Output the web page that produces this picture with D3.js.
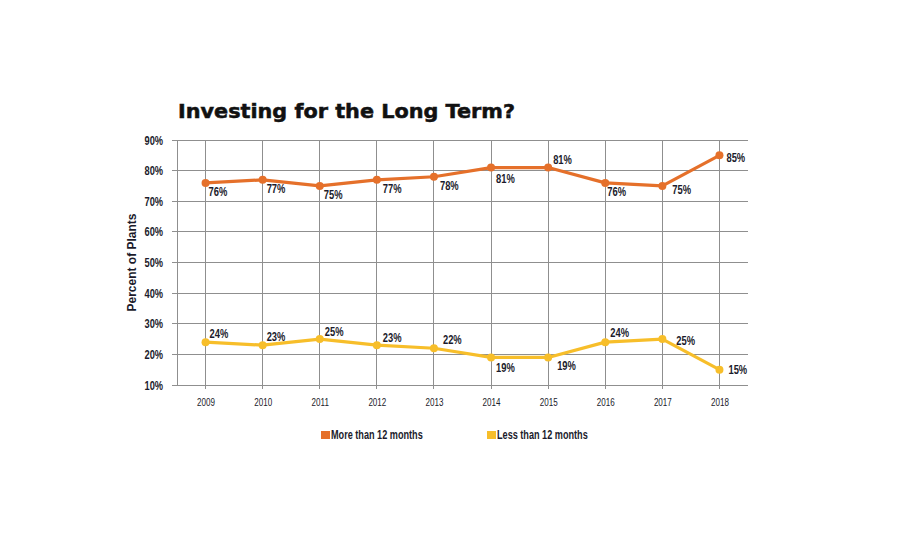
<!DOCTYPE html>
<html>
<head>
<meta charset="utf-8">
<script src="https://cdn.jsdelivr.net/npm/d3@7"></script>
<style>
  body { margin: 0; background: #fff; }
  text { fill: #1b1b2b; }
</style>
</head>
<body>
<svg></svg>
<script>
const width = 900;
const height = 550;

const years = ['2009', '2010', '2011', '2012', '2013', '2014', '2015', '2016', '2017', '2018'];
const moreThan12 = [76, 77, 75, 77, 78, 81, 81, 76, 75, 85];
const lessThan12 = [24, 23, 25, 23, 22, 19, 19, 24, 25, 15];
const yTicks = [10, 20, 30, 40, 50, 60, 70, 80, 90];
const seriesNames = ['More than 12 months', 'Less than 12 months'];
const colors = ['#e5702a', '#f7be2a'];

// label placement relative to each point [dx, dy]
const moreOffsets = [[3, 9], [4, 9], [4, 9], [6, 9], [6, 9], [5, 11], [5, -8], [2, 9], [10, 4], [7, 2]];
const lessOffsets = [[4, -9], [4, -9], [5, -8], [6, -8], [9, -9], [5, 10], [9, 8], [5, -10], [14, 1], [9, 0]];

const margin = { left: 177, right: 152, top: 140, bottom: 165 };
const x0 = margin.left, x1 = width - margin.right;
const y0 = height - margin.bottom, y1 = margin.top;

const svg = d3.select('svg').attr('width', width).attr('height', height);

const x = d3.scalePoint().domain(years).range([x0, x1]).padding(0.5);
const y = d3.scaleLinear().domain([10, 90]).range([y0, y1]);

const font = '"Liberation Sans", Arial, sans-serif';

// squeeze text horizontally to mimic a condensed face
function condense(sel, k) {
    sel.each(function () {
        const len = this.getComputedTextLength();
        d3.select(this).attr('textLength', len * k).attr('lengthAdjust', 'spacingAndGlyphs');
    });
}

const grid = svg.append('g').attr('stroke', '#8f8f8f').attr('stroke-width', 1).attr('shape-rendering', 'crispEdges');

grid.selectAll('.hgrid')
    .data(yTicks)
    .enter().append('line')
    .attr('x1', x0 - 5).attr('x2', x1)
    .attr('y1', d => y(d)).attr('y2', d => y(d));

grid.selectAll('.vgrid')
    .data(years)
    .enter().append('line')
    .attr('x1', d => x(d)).attr('x2', d => x(d))
    .attr('y1', y1).attr('y2', y0 + 4);

grid.append('line')
    .attr('x1', x0).attr('x2', x0)
    .attr('y1', y1).attr('y2', y0);

// y tick labels
const yAxis = d3.axisLeft(y).tickValues(yTicks).tickFormat(d => d + '%').tickSize(0).tickPadding(14);
svg.append('g')
    .attr('transform', `translate(${x0},0)`)
    .call(yAxis)
    .call(g => g.select('.domain').remove())
    .call(g => g.selectAll('text')
        .attr('font-family', font).attr('font-weight', 'bold')
        .attr('font-size', 12.5).attr('fill', '#1b1b2b')
        .call(condense, 0.74));

// x tick labels
const xAxis = d3.axisBottom(x).tickSize(0).tickPadding(13);
svg.append('g')
    .attr('transform', `translate(0,${y0})`)
    .call(xAxis)
    .call(g => g.select('.domain').remove())
    .call(g => g.selectAll('text')
        .attr('font-family', font).attr('font-size', 11.5).attr('fill', '#1b1b2b')
        .call(condense, 0.7));

const line = d3.line()
    .x((d, i) => x(years[i]))
    .y(d => y(d));

function drawSeries(values, color, offsets) {
    const g = svg.append('g');
    g.append('path')
        .datum(values)
        .attr('d', line)
        .attr('fill', 'none')
        .attr('stroke', color)
        .attr('stroke-width', 3.2)
        .attr('stroke-linejoin', 'round');
    g.selectAll('circle')
        .data(values)
        .enter().append('circle')
        .attr('cx', (d, i) => x(years[i]))
        .attr('cy', d => y(d))
        .attr('r', 4)
        .attr('fill', color);
    g.selectAll('text')
        .data(values)
        .enter().append('text')
        .attr('x', (d, i) => x(years[i]) + offsets[i][0])
        .attr('y', (d, i) => y(d) + offsets[i][1])
        .attr('dy', '0.35em')
        .attr('font-family', font)
        .attr('font-weight', 'bold')
        .attr('font-size', 13)
        .text(d => d + '%')
        .call(condense, 0.72);
}

drawSeries(moreThan12, colors[0], moreOffsets);
drawSeries(lessThan12, colors[1], lessOffsets);

// title
svg.append('text')
    .attr('x', 178).attr('y', 118)
    .attr('font-family', '"DejaVu Sans", sans-serif')
    .attr('font-weight', 'bold')
    .attr('font-size', 19)
    .attr('stroke', '#111').attr('stroke-width', 0.5)
    .attr('textLength', 337).attr('lengthAdjust', 'spacingAndGlyphs')
    .style('fill', '#111')
    .text('Investing for the Long Term?');

// y axis title
svg.append('text')
    .attr('transform', `translate(136,${(y0 + y1) / 2}) rotate(-90)`)
    .attr('text-anchor', 'middle')
    .attr('font-family', font)
    .attr('font-weight', 'bold')
    .attr('font-size', 12)
    .text('Percent of Plants');

// legend
const legendX = [321, 487];
const legend = svg.selectAll('.legend')
    .data(seriesNames)
    .enter().append('g')
    .attr('transform', (d, i) => `translate(${legendX[i]},435)`);
legend.append('rect')
    .attr('x', 0).attr('y', -4)
    .attr('width', 9).attr('height', 8)
    .attr('fill', (d, i) => colors[i]);
legend.append('text')
    .attr('x', 10).attr('y', 0).attr('dy', '0.35em')
    .attr('font-family', font)
    .attr('font-weight', 'bold')
    .attr('font-size', 12)
    .text(d => d)
    .call(condense, 0.76);
</script>
</body>
</html>
